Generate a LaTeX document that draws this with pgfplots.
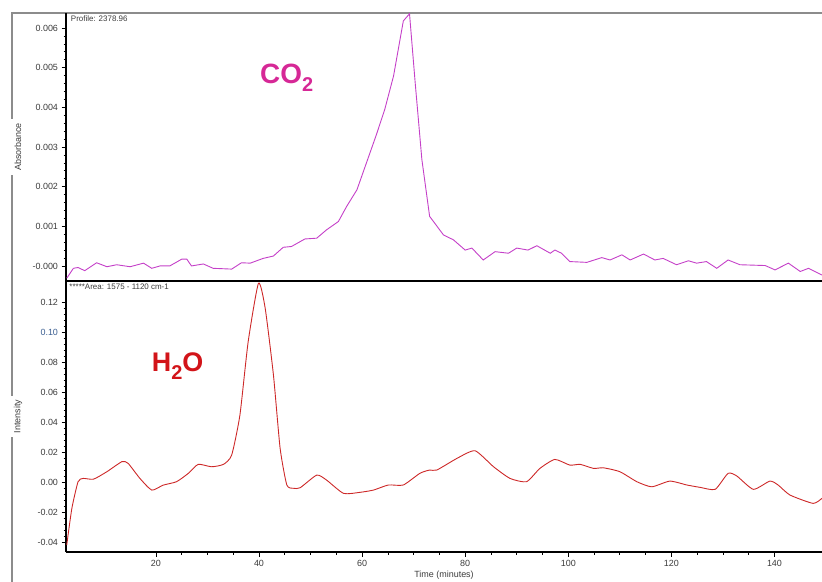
\documentclass[border=0pt]{standalone}
\usepackage{fontspec}
\setmainfont{Liberation Sans}
\usepackage{pgfplots}
\pgfplotsset{compat=1.18}

\definecolor{co2line}{RGB}{196,64,200}
\definecolor{h2oline}{RGB}{205,40,40}
\definecolor{co2text}{RGB}{214,40,150}
\definecolor{h2otext}{RGB}{210,20,25}
\definecolor{framecol}{RGB}{140,140,140}
\definecolor{ticktext}{RGB}{60,60,60}
\definecolor{bluetick}{RGB}{60,95,145}

\pgfplotsset{
  myax/.style={
    scale only axis, width=756bp,
    xmin=2.56, xmax=149.22,
    axis lines*=left, axis line style={-, line width=1.2bp, black},
    tick align=outside,
    major tick length=4.5bp, minor tick length=2.5bp,
    every tick/.style={black, line width=0.7bp},
    tick label style={font=\fontsize{9}{10}\selectfont, text=ticktext},
    /pgf/number format/assume math mode=true,
    scaled y ticks=false,
    every axis y label/.style={at={(rel axis cs:0,0.5)}, xshift=-48bp, rotate=90, anchor=center,
      fill=white, inner sep=4bp, font=\fontsize{9}{10}\selectfont, text=ticktext},
    every axis x label/.style={at={(rel axis cs:0.5,0)}, yshift=-23bp, anchor=center,
      font=\fontsize{9}{10}\selectfont, text=ticktext},
  }
}

\begin{document}
\begin{tikzpicture}
\draw[framecol, line width=1.5bp] (12bp,0bp) -- (12bp,569bp) -- (822bp,569bp);

% Upper panel: CO2
\begin{axis}[myax, height=268bp, at={(66bp,301bp)}, anchor=south west,
  ymin=-0.00038, ymax=0.00638,
  xtick=\empty,
  ytick={0,0.001,0.002,0.003,0.004,0.005,0.006},
  yticklabels={-0.000,0.001,0.002,0.003,0.004,0.005,0.006},
  minor y tick num=4,
  ylabel={Absorbance}]
\addplot[co2line, line width=0.9bp] coordinates {
(2.7,-0.00031) (4.0,-0.00006) (4.9,-0.00004) (6.2,-0.00012) (8.5,0.00008)
(10.5,-0.00002) (12.4,0.00003) (15.0,-0.00002) (17.6,0.00007) (19.2,-0.00006)
(20.8,0) (22.7,0) (25.0,0.00017) (26.0,0.00017) (26.9,0) (29.2,0.00005)
(31.1,-0.00006) (34.7,-0.00008) (36.6,0.00008) (38.3,0.00007) (40.8,0.00019)
(42.8,0.00025) (44.7,0.00047) (46.3,0.00049) (48.9,0.00068) (51.2,0.0007)
(53.1,0.00091) (55.4,0.00112) (57.0,0.0015) (59.0,0.00192) (60.6,0.00251)
(62.8,0.00332) (64.4,0.00395) (66.1,0.00479) (68.0,0.00618) (69.2,0.00636)
(70.3,0.00462) (71.6,0.00268) (73.1,0.00125) (75.8,0.00078) (77.7,0.00066)
(80.0,0.0004) (81.3,0.00045) (83.5,0.00015) (85.8,0.00036) (88.4,0.00032)
(90.0,0.00045) (92.2,0.0004) (93.9,0.00051) (96.5,0.00032) (97.4,0.0004)
(98.7,0.00032) (100.3,0.00011) (103.6,0.00009) (106.5,0.00021) (108.1,0.00015)
(110.4,0.00028) (112.0,0.00015) (114.6,0.0003) (116.8,0.00015) (118.4,0.00019)
(121.0,0.00003) (123.3,0.00013) (124.9,0.00007) (126.8,0.00011) (128.8,-0.00006)
(131.0,0.00015) (133.3,0.00003) (138.2,0.00001) (140.1,-0.0001) (142.7,0.00007)
(145.0,-0.00014) (146.6,-0.00006) (149.2,-0.00023)
};
\node[anchor=north west, inner sep=1bp, font=\fontsize{8}{9}\selectfont, text=ticktext]
  at (rel axis cs:0.005,0.993) {Profile: 2378.96};
\node[anchor=base west, inner sep=0pt, text=co2text, font=\fontsize{28}{30}\selectfont\bfseries]
  at (axis cs:40.2,0.00461) {CO\raisebox{-0.55ex}{\fontsize{20}{22}\selectfont 2}};
\end{axis}

% Lower panel: H2O
\begin{axis}[myax, height=271bp, at={(66bp,30bp)}, anchor=south west,
  ymin=-0.0467, ymax=0.1345,
  xtick={20,40,60,80,100,120,140},
  minor x tick num=3,
  ytick={-0.04,-0.02,0,0.02,0.04,0.06,0.08,0.10,0.12},
  yticklabels={-0.04,-0.02,0.00,0.02,0.04,0.06,0.08,\textcolor{bluetick}{0.10},0.12},
  minor y tick num=4,
  ylabel={Intensity},
  xlabel={Time (minutes)}]
\addplot[h2oline, line width=0.9bp, smooth, tension=0.35] coordinates {
(2.7,-0.0421) (3.7,-0.0175) (4.9,0.0003) (5.9,0.0025) (7.9,0.002)
(10.5,0.007) (13.4,0.0137) (14.6,0.0126) (16.9,0.0025) (19.2,-0.0053)
(21.4,-0.002) (24.0,0.0003) (26.3,0.0059) (28.2,0.0119) (30.8,0.0103)
(33.1,0.0119) (34.7,0.0181) (36.3,0.0449) (37.9,0.0939) (39.9,0.133)
(41.2,0.1163) (42.8,0.0717) (44.1,0.0226) (45.4,-0.0019) (46.7,-0.0041)
(48.0,-0.0037) (51.2,0.0047) (53.1,0.0014) (56.4,-0.0075) (59.6,-0.0068)
(62.2,-0.0053) (65.1,-0.0019) (68.0,-0.0019) (71.2,0.0059) (73.1,0.0081)
(74.5,0.0081) (78.4,0.0159) (81.9,0.021) (85.5,0.0103) (88.7,0.0025)
(91.9,0.0003) (94.5,0.0092) (97.4,0.0152) (100.3,0.0114) (102.3,0.0119)
(104.9,0.0092) (106.8,0.0096) (110.0,0.007) (113.3,0.0003) (116.2,-0.0031)
(119.7,0.0007) (123.0,-0.0019) (125.6,-0.0035) (128.5,-0.0048) (131.0,0.0059)
(132.7,0.0041) (135.9,-0.0048) (139.1,0.0007) (140.7,-0.0019) (143.0,-0.0086)
(147.5,-0.0142) (149.2,-0.0108)
};
\node[anchor=north west, inner sep=1bp, font=\fontsize{8}{9}\selectfont, text=ticktext]
  at (rel axis cs:0.003,0.993) {*****Area: 1575 - 1120 cm-1};
\node[anchor=base west, inner sep=0pt, text=h2otext, font=\fontsize{27}{30}\selectfont\bfseries]
  at (axis cs:19.2,0.0739) {H\raisebox{-0.55ex}{\fontsize{20}{22}\selectfont 2}O};
\end{axis}

\pgfresetboundingbox
\path[use as bounding box] (0bp,0bp) rectangle (822bp,582bp);
\end{tikzpicture}
\end{document}
